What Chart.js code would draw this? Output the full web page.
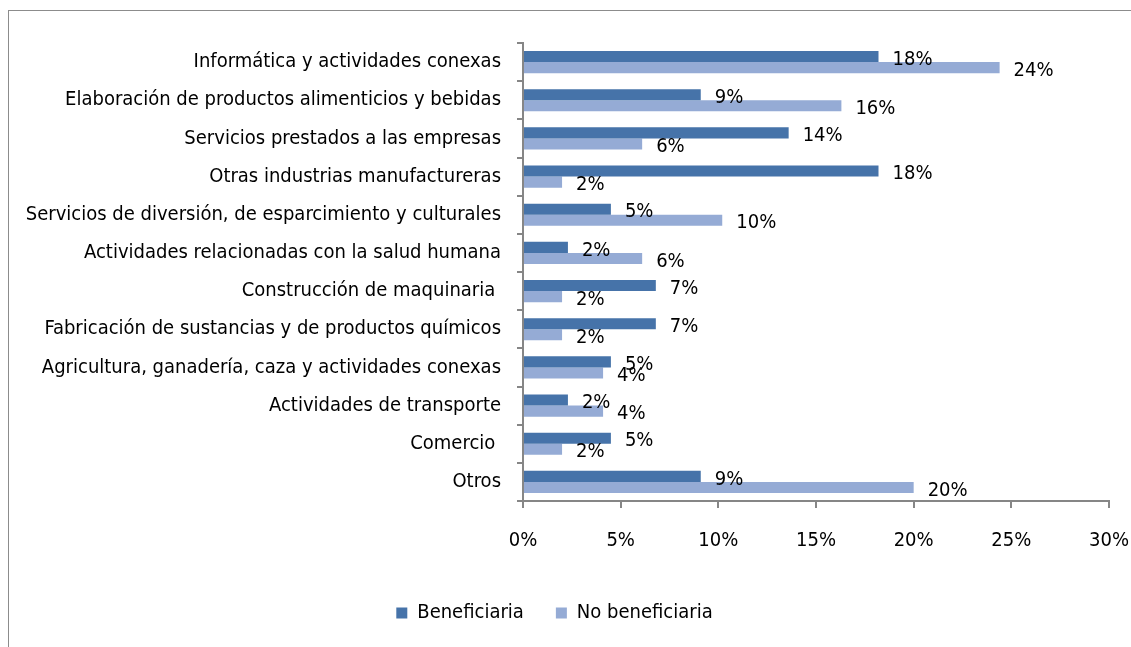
<!DOCTYPE html>
<html>
<head>
<meta charset="utf-8">
<script src="https://cdn.jsdelivr.net/npm/chart.js@4.4.1/dist/chart.umd.min.js"></script>
<style>
  html, body { margin: 0; padding: 0; background: #fff; overflow: hidden; }
  #frame { position: absolute; left: 8px; top: 10px; width: 1200px; height: 700px; border: 1px solid #8c8c8c; }
  #wrap { position: absolute; left: 0; top: 0; width: 1131px; height: 647px; }
</style>
</head>
<body>
<div id="frame"></div>
<div id="wrap"><canvas id="chart"></canvas></div>
<script>
const categories = [
    "Informática y actividades conexas",
    "Elaboración de productos alimenticios y bebidas",
    "Servicios prestados a las empresas",
    "Otras industrias manufactureras",
    "Servicios de diversión, de esparcimiento y culturales",
    "Actividades relacionadas con la salud humana",
    "Construcción de maquinaria ",
    "Fabricación de sustancias y de productos químicos",
    "Agricultura, ganadería, caza y actividades conexas",
    "Actividades de transporte",
    "Comercio ",
    "Otros"
];
const beneficiaria = [18.2, 9.1, 13.6, 18.2, 4.5, 2.3, 6.8, 6.8, 4.5, 2.3, 4.5, 9.1];
const noBeneficiaria = [24.4, 16.3, 6.1, 2.0, 10.2, 6.1, 2.0, 2.0, 4.1, 4.1, 2.0, 20.0];
const xTicks = [0, 5, 10, 15, 20, 25, 30];

const FONT = "'DejaVu Sans Condensed', 'Liberation Sans Narrow', sans-serif";

// value labels at the end of each bar
const barLabels = {
    id: 'barLabels',
    afterDatasetsDraw(chart) {
        const ctx = chart.ctx;
        ctx.save();
        ctx.font = '20px ' + FONT;
        ctx.fillStyle = '#000';
        ctx.textAlign = 'left';
        ctx.textBaseline = 'middle';
        chart.data.datasets.forEach((ds, i) => {
            chart.getDatasetMeta(i).data.forEach((bar, j) => {
                ctx.fillText(Math.round(ds.data[j]) + '%', bar.x + 14, bar.y + 3);
            });
        });
        ctx.restore();
    }
};

const ctx = document.getElementById('chart').getContext('2d');
const chart = new Chart(ctx, {
    type: 'bar',
    data: {
        labels: categories,
        datasets: [
            {
                label: 'Beneficiaria',
                data: beneficiaria,
                backgroundColor: '#4673a9',
                categoryPercentage: 0.58,
                barPercentage: 1
            },
            {
                label: 'No beneficiaria',
                data: noBeneficiaria,
                backgroundColor: '#95abd5',
                categoryPercentage: 0.58,
                barPercentage: 1
            }
        ]
    },
    options: {
        indexAxis: 'y',
        responsive: true,
        maintainAspectRatio: false,
        animation: false,
        layout: { padding: { top: 43, right: 22, left: 0, bottom: 14 } },
        plugins: {
            tooltip: { enabled: false },
            legend: {
                position: 'bottom',
                labels: {
                    font: { family: FONT, size: 20 },
                    color: '#000',
                    boxWidth: 11,
                    boxHeight: 11,
                    padding: 32
                }
            }
        },
        scales: {
            x: {
                min: 0,
                max: 30,
                afterBuildTicks: s => { s.ticks = xTicks.map(v => ({ value: v })); },
                afterFit: s => { s.height = 70; s.paddingRight = 0; s.paddingLeft = 0; },
                ticks: {
                    callback: v => v + '%',
                    font: { family: FONT, size: 20 },
                    color: '#000',
                    padding: 21,
                    maxRotation: 0
                },
                grid: { drawOnChartArea: false, tickLength: 7, color: '#868686', lineWidth: 2 },
                border: { color: '#868686', width: 2 }
            },
            y: {
                afterFit: s => { s.width = 523; },
                ticks: {
                    font: { family: FONT, size: 20 },
                    color: '#000',
                    padding: 16,
                    autoSkip: false
                },
                grid: { drawOnChartArea: false, tickLength: 6, color: '#868686', lineWidth: 2 },
                border: { color: '#868686', width: 2 }
            }
        }
    },
    plugins: [barLabels]
});
</script>
</body>
</html>
